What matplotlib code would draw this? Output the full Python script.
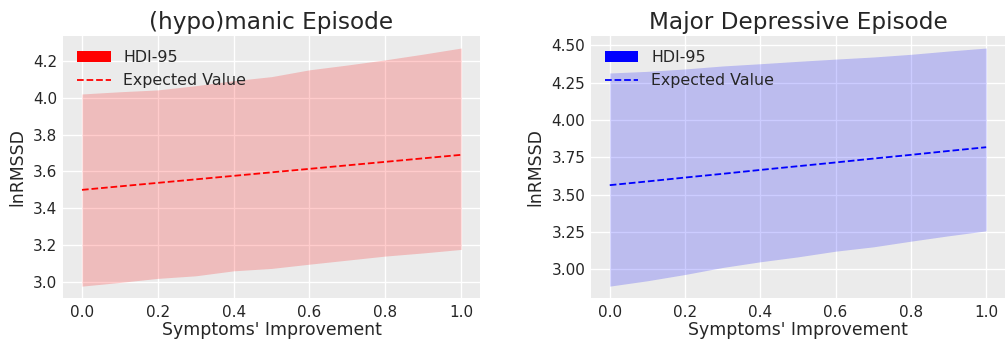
import matplotlib
matplotlib.use("Agg")
import matplotlib.pyplot as plt
from matplotlib.patches import Patch
from matplotlib.lines import Line2D

# Symptoms' improvement grid
improvement = [0.0, 0.1, 0.2, 0.3, 0.4, 0.5, 0.6, 0.7, 0.8, 0.9, 1.0]

# (hypo)manic episode: 95% HDI bounds and expected lnRMSSD
manic_lower = [2.978, 2.998, 3.020, 3.034, 3.061, 3.074, 3.097, 3.119, 3.141, 3.158, 3.177]
manic_upper = [4.020, 4.032, 4.042, 4.065, 4.092, 4.114, 4.151, 4.177, 4.205, 4.236, 4.269]
manic_mean = [3.500, 3.519, 3.538, 3.557, 3.576, 3.595, 3.614, 3.633, 3.652, 3.671, 3.690]

# Major depressive episode: 95% HDI bounds and expected lnRMSSD
dep_lower = [2.888, 2.924, 2.966, 3.013, 3.051, 3.084, 3.122, 3.151, 3.189, 3.225, 3.258]
dep_upper = [4.315, 4.326, 4.342, 4.362, 4.377, 4.393, 4.408, 4.422, 4.440, 4.462, 4.482]
dep_mean = [3.564, 3.589, 3.615, 3.640, 3.666, 3.691, 3.716, 3.742, 3.767, 3.793, 3.818]

panels = [
    ("(hypo)manic Episode", manic_lower, manic_upper, manic_mean, "red"),
    ("Major Depressive Episode", dep_lower, dep_upper, dep_mean, "blue"),
]

plt.rcParams["font.family"] = ["DejaVu Sans"]
text_color = "#262626"

fig = plt.figure(figsize=(10.05, 3.41), dpi=100)
positions = [[0.0627, 0.126, 0.415, 0.768], [0.588, 0.126, 0.412, 0.768]]

for pos, (title, lo, hi, mean, color) in zip(positions, panels):
    ax = fig.add_axes(pos)
    ax.set_facecolor("#ebebeb")
    ax.set_axisbelow(True)
    ax.grid(True, color="white", linewidth=1.0)
    ax.fill_between(improvement, lo, hi, color=color, alpha=0.2, linewidth=0, zorder=1)
    ax.plot(improvement, mean, color=color, linestyle="--", linewidth=1.3, zorder=3)
    for s in ax.spines.values():
        s.set_visible(False)
    ax.tick_params(length=0, labelsize=11, colors=text_color)
    ax.tick_params(axis="x", pad=5)
    ax.tick_params(axis="y", pad=4)
    ax.set_title(title, fontsize=16.7, color=text_color, pad=5)
    ax.set_xlabel("Symptoms' Improvement", fontsize=12.4, color=text_color, labelpad=1)
    ax.set_ylabel("lnRMSSD", fontsize=12.4, color=text_color, labelpad=5)
    ax.set_xticks([0.0, 0.2, 0.4, 0.6, 0.8, 1.0])
    handles = [Patch(facecolor=color, edgecolor="none"),
               Line2D([0], [0], color=color, linestyle="--", linewidth=1.3)]
    ax.legend(handles, ["HDI-95", "Expected Value"], loc="upper left", frameon=False,
              fontsize=11.4, handlelength=2.1, labelcolor=text_color)

fig.savefig("out.png", dpi=100)
